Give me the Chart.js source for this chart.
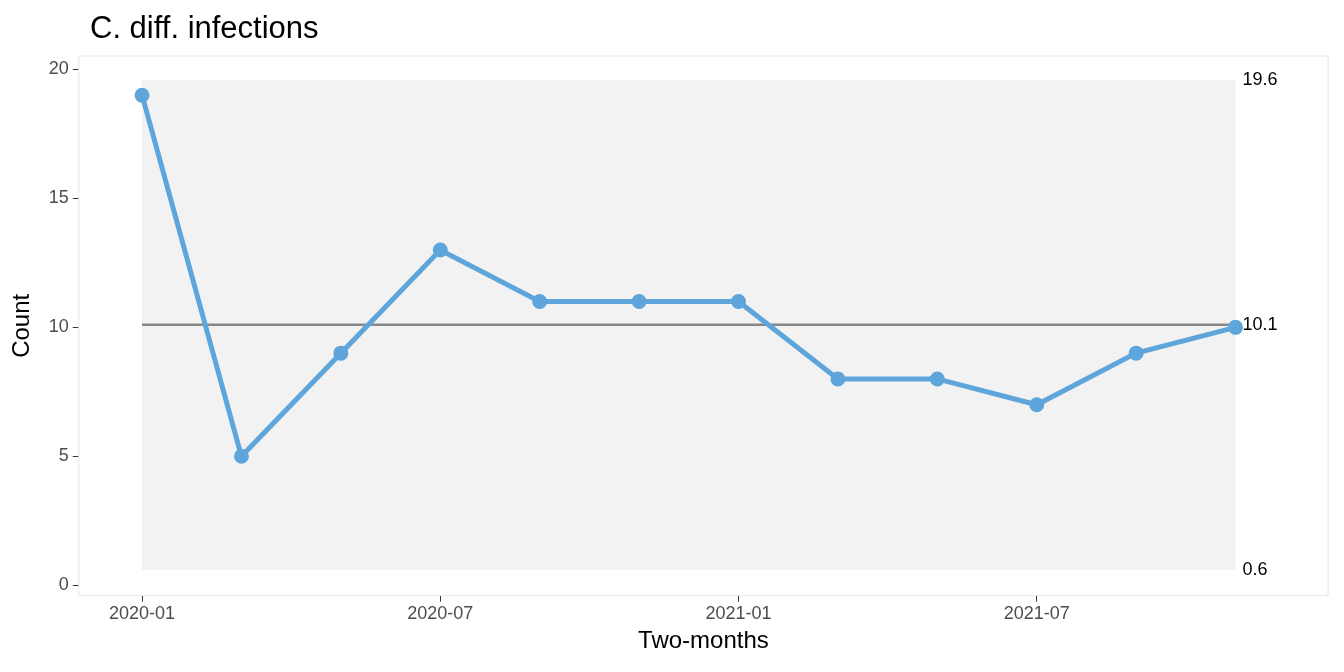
<!DOCTYPE html>
<html>
<head>
<meta charset="utf-8">
<script src="https://cdn.jsdelivr.net/npm/chart.js@4"></script>
<style>
  html, body { margin: 0; padding: 0; background: #fff; }
  #wrap { width: 1344px; height: 672px; }
</style>
</head>
<body>
<div id="wrap"><canvas id="c" width="1344" height="672"></canvas></div>
<script>
const periods = ['2020-01', '2020-03', '2020-05', '2020-07', '2020-09', '2020-11',
  '2021-01', '2021-03', '2021-05', '2021-07', '2021-09', '2021-11'];
const counts = [19, 5, 9, 13, 11, 11, 11, 8, 8, 7, 9, 10];
const tickIdx = [0, 3, 6, 9];
const limits = { upper: 19.6, centre: 10.1, lower: 0.6 };

const FONT = 'Liberation Sans, Arial, sans-serif';

const backdrop = {
  id: 'backdrop',
  beforeDatasetsDraw(chart) {
    const { ctx, scales: { x, y }, chartArea: a } = chart;
    const x0 = x.getPixelForValue(0), x1 = x.getPixelForValue(periods.length - 1);
    ctx.save();
    ctx.fillStyle = '#f2f2f2';
    ctx.fillRect(x0, y.getPixelForValue(limits.upper), x1 - x0,
      y.getPixelForValue(limits.lower) - y.getPixelForValue(limits.upper));
    ctx.strokeStyle = '#888';
    ctx.lineWidth = 2.5;
    ctx.beginPath();
    ctx.moveTo(x0, y.getPixelForValue(limits.centre));
    ctx.lineTo(x1, y.getPixelForValue(limits.centre));
    ctx.stroke();
    ctx.strokeStyle = '#e6e6e6';
    ctx.lineWidth = 1;
    ctx.strokeRect(a.left, a.top, a.right - a.left, a.bottom - a.top);
    ctx.fillStyle = '#000';
    ctx.font = '31px ' + FONT;
    ctx.textBaseline = 'middle';
    ctx.fillText('C. diff. infections', 90, 29);
    ctx.restore();
  },
  afterDatasetsDraw(chart) {
    const { ctx, scales: { x, y } } = chart;
    const lx = x.getPixelForValue(periods.length - 1) + 7;
    ctx.save();
    ctx.fillStyle = '#000';
    ctx.font = '18px ' + FONT;
    ctx.textBaseline = 'middle';
    [limits.upper, limits.centre, limits.lower].forEach(v => {
      ctx.fillText(v.toFixed(1), lx, y.getPixelForValue(v));
    });
    ctx.restore();
  }
};

const axisGrid = { color: 'transparent', drawOnChartArea: false, drawTicks: true,
  tickLength: 6, tickColor: '#333', tickWidth: 1 };

new Chart(document.getElementById('c'), {
  type: 'line',
  data: {
    datasets: [{
      data: counts.map((v, i) => ({ x: i, y: v })),
      borderColor: '#5da5da',
      backgroundColor: '#5da5da',
      borderWidth: 5,
      pointRadius: 5,
      pointHoverRadius: 5,
      tension: 0
    }]
  },
  options: {
    responsive: false,
    animation: false,
    layout: { padding: { left: 8, right: 16, top: 56, bottom: 16 } },
    plugins: {
      legend: { display: false },
      tooltip: { enabled: false },
      title: { display: false }
    },
    scales: {
      x: {
        type: 'linear',
        min: -0.636,
        max: 11.93,
        afterBuildTicks: s => { s.ticks = tickIdx.map(v => ({ value: v })); },
        ticks: {
          callback: v => periods[v],
          color: '#4d4d4d',
          font: { family: FONT, size: 18 },
          maxRotation: 0,
          padding: 2
        },
        grid: axisGrid,
        border: { display: false },
        title: { display: true, text: 'Two-months', color: '#000',
          font: { family: FONT, size: 24 }, padding: { top: 0, bottom: 0 } }
      },
      y: {
        min: -0.4,
        max: 20.52,
        afterBuildTicks: s => { s.ticks = [0, 5, 10, 15, 20].map(v => ({ value: v })); },
        ticks: {
          color: '#4d4d4d',
          font: { family: FONT, size: 18 },
          padding: 4
        },
        grid: axisGrid,
        border: { display: false },
        title: { display: true, text: 'Count', color: '#000',
          font: { family: FONT, size: 24 }, padding: { top: 0, bottom: 8 } }
      }
    }
  },
  plugins: [backdrop]
});
</script>
</body>
</html>
